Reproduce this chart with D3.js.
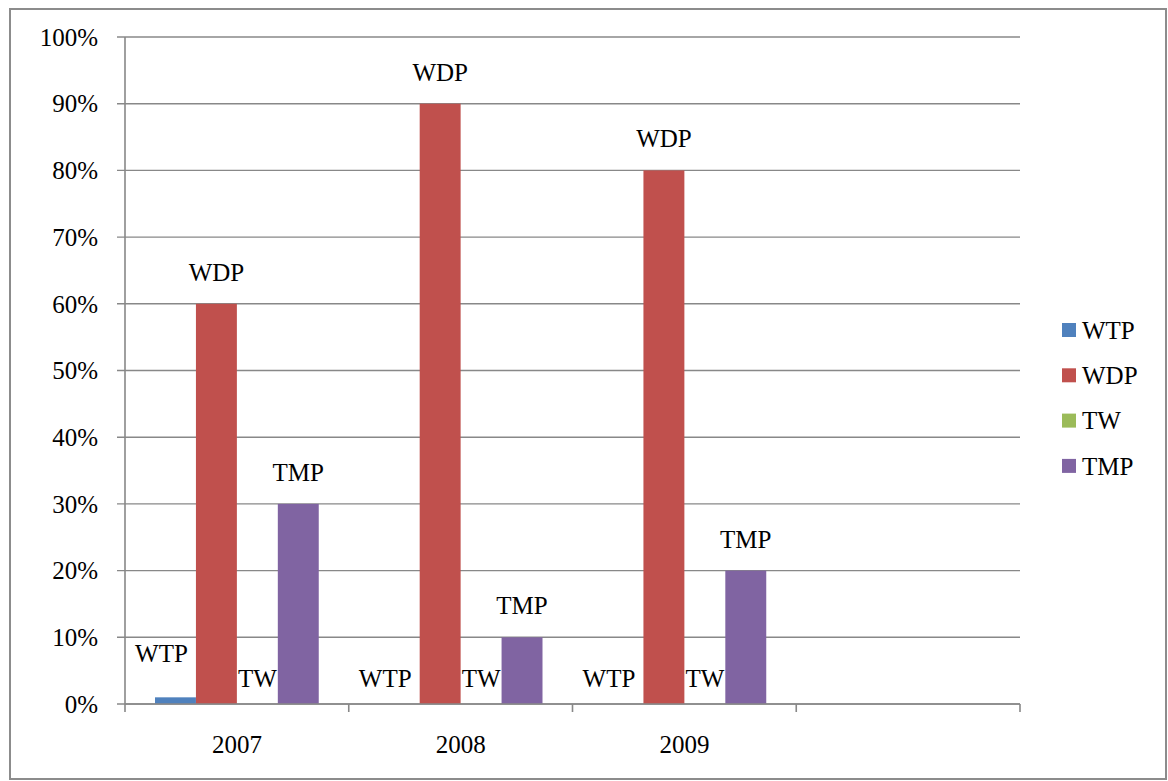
<!DOCTYPE html>
<html>
<head>
<meta charset="utf-8">
<script src="https://cdn.jsdelivr.net/npm/d3@7"></script>
<style>
  html, body { margin: 0; padding: 0; background: #fff; }
</style>
</head>
<body>
<div id="chart"></div>
<script>
// categories (the 4th slot is empty in the original)
var years = ['2007', '2008', '2009', ''];
var seriesNames = ['WTP', 'WDP', 'TW', 'TMP'];
var seriesColors = ['#4F81BD', '#C0504D', '#9BBB59', '#8064A2'];
// values in percent, one array per series
var wtp = [1, 0, 0, null];
var wdp = [60, 90, 80, null];
var tw  = [0, 0, 0, null];
var tmp = [30, 10, 20, null];
var yTicks = [0, 10, 20, 30, 40, 50, 60, 70, 80, 90, 100];

(function () {
var W = 1168, H = 781;
var svg = d3.select('#chart').append('svg')
  .attr('width', W)
  .attr('height', H)
  .attr('font-family', "'Liberation Serif', 'Times New Roman', 'DejaVu Serif', serif")
  .attr('font-size', 25);

// outer frame
svg.append('rect')
  .attr('x', 10).attr('y', 9)
  .attr('width', 1156).attr('height', 770)
  .attr('fill', 'none')
  .attr('stroke', '#8c8c8c')
  .attr('stroke-width', 2);

var pLeft = 125, pRight = 1020, pTop = 37, pBottom = 704;

var x0 = d3.scaleBand().domain(years).range([pLeft, pRight]);
var x1 = d3.scaleBand().domain(seriesNames)
  .range([30, x0.bandwidth() - 30]);
var y = d3.scaleLinear().domain([0, 100]).range([pBottom, pTop]);

// gridlines + y ticks
svg.append('g').selectAll('line')
  .data(yTicks)
  .enter().append('line')
    .attr('x1', pLeft - 8).attr('x2', pRight)
    .attr('y1', function(d) { return y(d); })
    .attr('y2', function(d) { return y(d); })
    .attr('stroke', '#888')
    .attr('stroke-width', 1.4);

svg.append('g').selectAll('text')
  .data(yTicks)
  .enter().append('text')
    .attr('x', 98)
    .attr('y', function(d) { return y(d); })
    .attr('dy', '0.35em')
    .attr('text-anchor', 'end')
    .text(function(d) { return d + '%'; });

// bars
var series = [wtp, wdp, tw, tmp];
var rows = [];
years.forEach(function(yr, i) {
  seriesNames.forEach(function(s, j) {
    if (series[j][i] != null) rows.push({ year: yr, name: s, color: seriesColors[j], v: series[j][i] });
  });
});

var g = svg.append('g');
g.selectAll('rect')
  .data(rows)
  .enter().append('rect')
    .attr('x', function(d) { return x0(d.year) + x1(d.name); })
    .attr('y', function(d) { return y(d.v); })
    .attr('width', x1.bandwidth())
    .attr('height', function(d) { return y(0) - y(d.v); })
    .attr('fill', function(d) { return d.color; });

// data labels (series names, as in the original)
g.selectAll('text')
  .data(rows)
  .enter().append('text')
    .attr('x', function(d) {
      var cx = x0(d.year) + x1(d.name) + x1.bandwidth() / 2;
      return d.name == 'WTP' ? cx - 14 : cx;
    })
    .attr('y', function(d) {
      if (d.v == 0) return y(0) - 17;
      if (d.v < 5) return y(d.v) - 35;
      return y(d.v) - 23;
    })
    .attr('text-anchor', 'middle')
    .text(function(d) { return d.name; });

// axes lines
svg.append('line')
  .attr('x1', pLeft).attr('x2', pLeft)
  .attr('y1', pTop).attr('y2', pBottom)
  .attr('stroke', '#888').attr('stroke-width', 1.6);
svg.append('line')
  .attr('x1', pLeft).attr('x2', pRight)
  .attr('y1', pBottom).attr('y2', pBottom)
  .attr('stroke', '#888').attr('stroke-width', 1.6);

// category boundary ticks
var bounds = years.map(function(d) { return x0(d); }).concat([pRight]);
svg.append('g').selectAll('line')
  .data(bounds)
  .enter().append('line')
    .attr('x1', function(d) { return d; })
    .attr('x2', function(d) { return d; })
    .attr('y1', pBottom).attr('y2', pBottom + 8)
    .attr('stroke', '#888').attr('stroke-width', 1.6);

svg.append('g').selectAll('text')
  .data(years)
  .enter().append('text')
    .attr('x', function(d) { return x0(d) + x0.bandwidth() / 2; })
    .attr('y', 753)
    .attr('text-anchor', 'middle')
    .text(function(d) { return d; });

// legend
var leg = svg.append('g').selectAll('g')
  .data(seriesNames)
  .enter().append('g')
    .attr('transform', function(d, i) { return 'translate(1062,' + (330 + i * 45.3) + ')'; });
leg.append('rect')
  .attr('x', 0).attr('y', -7)
  .attr('width', 14).attr('height', 14)
  .attr('fill', function(d, i) { return seriesColors[i]; });
leg.append('text')
  .attr('x', 20).attr('y', 0)
  .attr('dy', '0.35em')
  .text(function(d) { return d; });
})();
</script>
</body>
</html>
